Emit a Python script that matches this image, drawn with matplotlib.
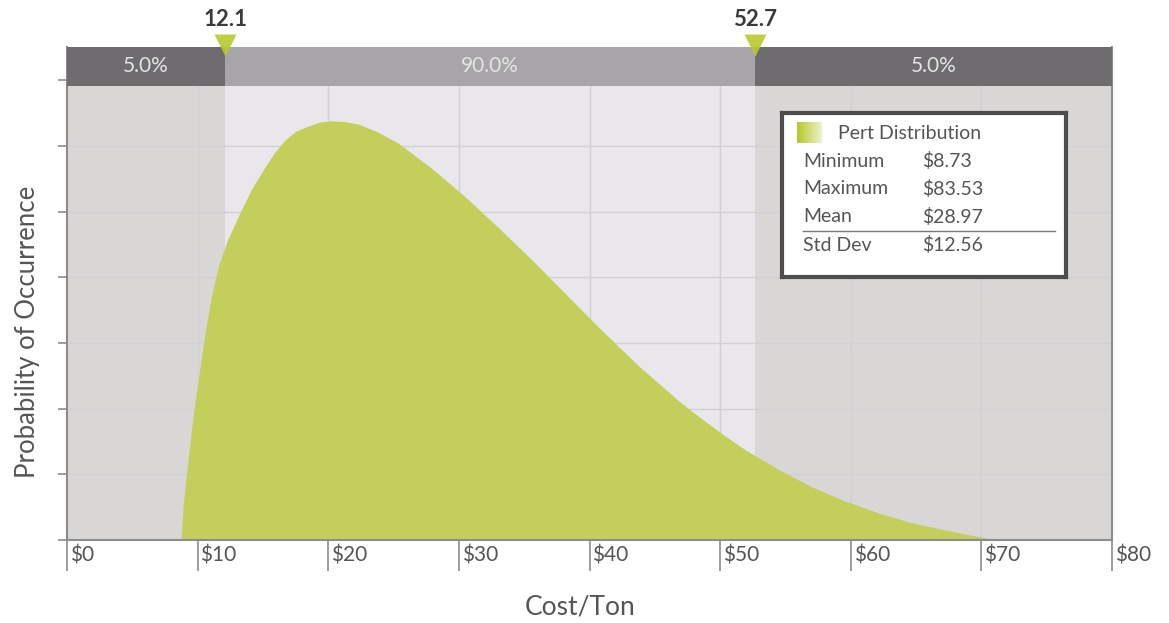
import numpy as np
import matplotlib
matplotlib.use("Agg")
import matplotlib.pyplot as plt

plt.rcParams['font.family'] = ['Lato', 'DejaVu Sans']

# curve (cost $/ton, relative height)
cost = [8.73, 8.9, 9.2, 9.5, 9.8, 10.2, 10.57, 11.0, 11.57, 12.3, 13.1,
        14.1, 15.17, 15.9, 16.7, 17.5, 18.47, 19.3, 20.23, 21.2, 22.3,
        23.8, 25.36, 27.9, 30.5, 33.0, 35.56, 38.1, 40.69, 43.7, 46.82,
        48.35, 50.2, 51.95, 54.5, 57.0, 59.6, 62.15, 64.7, 67.28, 69.8, 71.3]
density = [0.0, 0.55, 1.1, 1.63, 2.1, 2.65, 3.15, 3.65, 4.16, 4.57, 4.92,
           5.33, 5.68, 5.9, 6.09, 6.22, 6.30, 6.36, 6.38, 6.37, 6.33,
           6.21, 6.04, 5.66, 5.22, 4.76, 4.27, 3.76, 3.24, 2.66, 2.12,
           1.88, 1.61, 1.37, 1.07, 0.81, 0.59, 0.41, 0.26, 0.15, 0.05, 0.0]

p_low, p_high = 12.1, 52.7
band_labels = ["5.0%", "90.0%", "5.0%"]
x_ticks = [0, 10, 20, 30, 40, 50, 60, 70, 80]
x_tick_labels = ["$" + str(t) for t in x_ticks]
stats_names = ["Minimum", "Maximum", "Mean", "Std Dev"]
stats_values = ["$8.73", "$83.53", "$28.97", "$12.56"]

green = "#c3cf5a"
side_gray = "#d9d6d6"
mid_gray = "#e9e7eb"
dark_band = "#6e6c6f"
mid_band = "#a8a5a8"
axis_gray = "#8c8c8c"
text_gray = "#555555"

fig = plt.figure(figsize=(11.69, 6.23), dpi=100)
ax = fig.add_axes([67 / 1169, 83 / 623, (1112 - 67) / 1169, (540 - 47) / 623])

ymax = (540 - 47) / 65.7
band_bot = (540 - 86) / 65.7
ax.set_xlim(0, 80)
ax.set_ylim(0, ymax)

# background zones
ax.axvspan(0, p_low, color=side_gray, lw=0, zorder=0)
ax.axvspan(p_low, p_high, color=mid_gray, lw=0, zorder=0)
ax.axvspan(p_high, 80, color=side_gray, lw=0, zorder=0)

for t in x_ticks[1:-1]:
    ax.axvline(t, color="#d2d0d4", lw=1, zorder=0.5)
for t in range(1, 7):
    ax.axhline(t, color="#d2d0d4", lw=1, zorder=0.5)

ax.fill_between(cost, density, 0, color=green, lw=0, zorder=1)

# top band with percentages
ax.fill_between([0, p_low], band_bot, ymax, color=dark_band, lw=0, zorder=3)
ax.fill_between([p_low, p_high], band_bot, ymax, color=mid_band, lw=0, zorder=3)
ax.fill_between([p_high, 80], band_bot, ymax, color=dark_band, lw=0, zorder=3)
band_mid = (band_bot + ymax) / 2
for (a, b), lab in zip([(0, p_low), (p_low, p_high), (p_high, 80)], band_labels):
    ax.text((a + b) / 2, band_mid, lab, ha="center", va="center",
            fontsize=15, color="#e4e4e4", zorder=4)

# percentile markers
for p in [p_low, p_high]:
    ax.plot([p], [ymax + 0.03], marker="v", markersize=16, color="#b9ca2c",
            alpha=0.9, clip_on=False, zorder=5, mec="none")
    ax.annotate(f"{p:.1f}", (p, ymax), xytext=(0, 12), textcoords="offset points",
                ha="center", va="bottom", fontsize=16, fontweight="bold",
                color="#3a3a3a", annotation_clip=False)

# axes styling
ax.spines["top"].set_visible(False)
for s in ["left", "bottom", "right"]:
    ax.spines[s].set_color(axis_gray)
    ax.spines[s].set_linewidth(1.5)
    ax.spines[s].set_zorder(2)

ax.set_xticks(x_ticks)
ax.set_xticklabels([])
ax.tick_params(axis="x", direction="out", length=22, width=1.2, color=axis_gray)
for t, lab in zip(x_ticks, x_tick_labels):
    ax.annotate(lab, (t, 0), xytext=(2, -4), textcoords="offset points",
                ha="left", va="top", fontsize=15, color=text_gray,
                annotation_clip=False)

ax.set_yticks(range(0, 8))
ax.set_yticklabels([])
ax.tick_params(axis="y", direction="out", length=6.5, width=1.2, color=axis_gray)

fig.text(28 / 1169, 1 - 332 / 623, "Probability of Occurrence", rotation=90,
         ha="center", va="center", fontsize=18.5, color=text_gray)
fig.text(580 / 1169, 1 - 607 / 623, "Cost/Ton", ha="center", va="center",
         fontsize=19, color=text_gray)

# stats box
lg = fig.add_axes([782 / 1169, (623 - 277) / 623, 284 / 1169, 164 / 623])
lg.set_xticks([])
lg.set_yticks([])
lg.set_facecolor("white")
for s in lg.spines.values():
    s.set_color("#4d4d4d")
    s.set_linewidth(3)
grad = np.linspace(0, 1, 50)
c0 = np.array([0.72, 0.78, 0.16])
c1 = np.array([0.93, 0.95, 0.80])
img = c0[None, None, :] * (1 - grad[None, :, None]) + c1[None, None, :] * grad[None, :, None]
lg.imshow(img, extent=(0.053, 0.141, 0.817, 0.945), aspect="auto")
lg.set_xlim(0, 1)
lg.set_ylim(0, 1)
lg.text(0.197, 0.878, "Pert Distribution", ha="left", va="center", fontsize=14, color=text_gray)
row_y = [0.707, 0.537, 0.366, 0.195]
for y, name, val in zip(row_y, stats_names, stats_values):
    lg.text(0.074, y, name, ha="left", va="center", fontsize=14, color=text_gray)
    lg.text(0.493, y, val, ha="left", va="center", fontsize=14, color=text_gray)
lg.plot([0.074, 0.961], [0.28, 0.28], color="#777777", lw=1)

fig.savefig("out.png", dpi=100)
